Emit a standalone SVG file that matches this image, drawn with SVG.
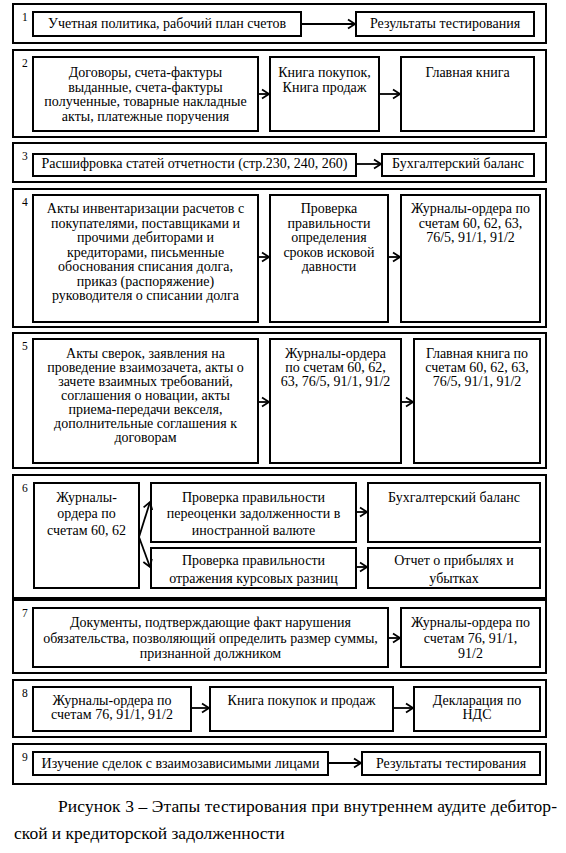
<svg xmlns="http://www.w3.org/2000/svg" width="566" height="853" viewBox="0 0 566 853">
<style>
.o{fill:none;stroke:#000;stroke-width:2}
.b{fill:#fff;stroke:#000;stroke-width:2}
.t{font-size:14px;text-anchor:middle}
.n{font-size:11.5px}
.c{font-size:17.5px}
.a{fill:none;stroke:#000;stroke-width:1.8}
</style>
<defs>
<marker id="ah" markerUnits="userSpaceOnUse" markerWidth="12" markerHeight="12" refX="9" refY="6" orient="auto">
<path d="M2,1.5 L9,6 L2,10.5" fill="none" stroke="#000" stroke-width="1.8"/>
</marker>
</defs>
<rect width="566" height="853" fill="#fff"/>
<g font-family="Liberation Serif, DejaVu Serif, serif" fill="#000">
<g id="stage1">
<rect class="o" x="13" y="4" width="533" height="39"/>
<text class="n" x="22" y="21">1</text>
<g id="s1a"><rect class="b" x="33" y="12" width="268" height="24"/><text class="t" x="167" y="28">Учетная политика, рабочий план счетов</text></g>
<g id="s1b"><rect class="b" x="356" y="12" width="178" height="24"/><text class="t" x="445" y="28">Результаты тестирования</text></g>
</g>

<g id="stage2">
<rect class="o" x="13" y="50" width="533" height="87"/>
<text class="n" x="22" y="67">2</text>
<g id="s2a"><rect class="b" x="33" y="57" width="225" height="74"/>
<text class="t" x="145.5" y="77">Договоры, счета-фактуры</text>
<text class="t" x="145.5" y="91.5">выданные, счета-фактуры</text>
<text class="t" x="145.5" y="106">полученные, товарные накладные</text>
<text class="t" x="145.5" y="120.5">акты, платежные поручения</text></g>
<g id="s2b"><rect class="b" x="270" y="57" width="109" height="74"/>
<text class="t" x="324.5" y="77">Книга покупок,</text>
<text class="t" x="324.5" y="91.5">Книга продаж</text></g>
<g id="s2c"><rect class="b" x="401" y="57" width="133" height="74"/>
<text class="t" x="467.5" y="77">Главная книга</text></g>
</g>

<g id="stage3">
<rect class="o" x="13" y="143" width="533" height="39"/>
<text class="n" x="22" y="160">3</text>
<g id="s3a"><rect class="b" x="33" y="154" width="323" height="22"/><text class="t" x="194.5" y="168">Расшифровка статей отчетности (стр.230, 240, 260)</text></g>
<g id="s3b"><rect class="b" x="382" y="154" width="152" height="22"/><text class="t" x="458" y="168">Бухгалтерский баланс</text></g>
</g>

<g id="stage4">
<rect class="o" x="13" y="189" width="533" height="138"/>
<text class="n" x="22" y="206">4</text>
<g id="s4a"><rect class="b" x="33" y="195" width="225" height="127"/>
<text class="t" x="145.5" y="213">Акты инвентаризации расчетов с</text>
<text class="t" x="145.5" y="227.5">покупателями, поставщиками и</text>
<text class="t" x="145.5" y="242">прочими дебиторами и</text>
<text class="t" x="145.5" y="256.5">кредиторами, письменные</text>
<text class="t" x="145.5" y="271">обоснования списания долга,</text>
<text class="t" x="145.5" y="285.5">приказ (распоряжение)</text>
<text class="t" x="145.5" y="300">руководителя о списании долга</text></g>
<g id="s4b"><rect class="b" x="270" y="195" width="118" height="127"/>
<text class="t" x="329" y="213">Проверка</text>
<text class="t" x="329" y="227.5">правильности</text>
<text class="t" x="329" y="242">определения</text>
<text class="t" x="329" y="256.5">сроков исковой</text>
<text class="t" x="329" y="271">давности</text></g>
<g id="s4c"><rect class="b" x="401" y="195" width="139" height="127"/>
<text class="t" x="470.5" y="213">Журналы-ордера по</text>
<text class="t" x="470.5" y="227.5">счетам 60, 62, 63,</text>
<text class="t" x="470.5" y="242">76/5, 91/1, 91/2</text></g>
</g>

<g id="stage5">
<rect class="o" x="13" y="333" width="533" height="135"/>
<text class="n" x="22" y="350">5</text>
<g id="s5a"><rect class="b" x="33" y="339" width="225" height="124"/>
<text class="t" x="145.5" y="358">Акты сверок, заявления на</text>
<text class="t" x="145.5" y="372">проведение взаимозачета, акты о</text>
<text class="t" x="145.5" y="386">зачете взаимных требований,</text>
<text class="t" x="145.5" y="400">соглашения о новации, акты</text>
<text class="t" x="145.5" y="414">приема-передачи векселя,</text>
<text class="t" x="145.5" y="428">дополнительные соглашения к</text>
<text class="t" x="145.5" y="442">договорам</text></g>
<g id="s5b"><rect class="b" x="270" y="339" width="131" height="124"/>
<text class="t" x="335.5" y="358">Журналы-ордера</text>
<text class="t" x="335.5" y="372">по счетам 60, 62,</text>
<text class="t" x="335.5" y="386">63, 76/5, 91/1, 91/2</text></g>
<g id="s5c"><rect class="b" x="414" y="339" width="126" height="124"/>
<text class="t" x="477" y="358">Главная книга по</text>
<text class="t" x="477" y="372">счетам 60, 62, 63,</text>
<text class="t" x="477" y="386">76/5, 91/1, 91/2</text></g>
</g>

<g id="stage6">
<rect class="o" x="13" y="475" width="533" height="123"/>
<text class="n" x="22" y="492">6</text>
<g id="s6a"><rect class="b" x="34" y="483" width="105" height="105"/>
<text class="t" x="86.5" y="501.5">Журналы-</text>
<text class="t" x="86.5" y="518">ордера по</text>
<text class="t" x="86.5" y="534.5">счетам 60, 62</text></g>
<g id="s6b"><rect class="b" x="151" y="483" width="205" height="59"/>
<text class="t" x="253.5" y="501.5">Проверка правильности</text>
<text class="t" x="253.5" y="518">переоценки задолженности в</text>
<text class="t" x="253.5" y="534.5">иностранной валюте</text></g>
<g id="s6c"><rect class="b" x="368" y="483" width="172" height="59"/>
<text class="t" x="454" y="501.5">Бухгалтерский баланс</text></g>
<g id="s6d"><rect class="b" x="151" y="548" width="205" height="40"/>
<text class="t" x="253.5" y="565">Проверка правильности</text>
<text class="t" x="253.5" y="583">отражения курсовых разниц</text></g>
<g id="s6e"><rect class="b" x="368" y="548" width="172" height="40"/>
<text class="t" x="454" y="565">Отчет о прибылях и</text>
<text class="t" x="454" y="583">убытках</text></g>
</g>

<g id="stage7">
<rect class="o" x="13" y="600" width="533" height="73"/>
<text class="n" x="22" y="617">7</text>
<g id="s7a"><rect class="b" x="33" y="608" width="355" height="59"/>
<text class="t" x="210.5" y="626.5">Документы, подтверждающие факт нарушения</text>
<text class="t" x="210.5" y="642.5">обязательства, позволяющий определить размер суммы,</text>
<text class="t" x="210.5" y="658">признанной должником</text></g>
<g id="s7b"><rect class="b" x="401" y="608" width="139" height="59"/>
<text class="t" x="470.5" y="626.5">Журналы-ордера по</text>
<text class="t" x="470.5" y="642.5">счетам 76, 91/1,</text>
<text class="t" x="470.5" y="658">91/2</text></g>
</g>

<g id="stage8">
<rect class="o" x="13" y="680" width="533" height="57"/>
<text class="n" x="22" y="697">8</text>
<g id="s8a"><rect class="b" x="33" y="687" width="158" height="44"/>
<text class="t" x="112" y="705">Журналы-ордера по</text>
<text class="t" x="112" y="719">счетам 76, 91/1, 91/2</text></g>
<g id="s8b"><rect class="b" x="210" y="687" width="183" height="44"/>
<text class="t" x="301.5" y="705">Книга покупок и продаж</text></g>
<g id="s8c"><rect class="b" x="414" y="687" width="126" height="44"/>
<text class="t" x="477" y="705">Декларация по</text>
<text class="t" x="477" y="719">НДС</text></g>
</g>

<g id="stage9">
<rect class="o" x="13" y="744" width="533" height="40"/>
<text class="n" x="22" y="761">9</text>
<g id="s9a"><rect class="b" x="33" y="752" width="295" height="23"/><text class="t" x="180.5" y="768">Изучение сделок с взаимозависимыми лицами</text></g>
<g id="s9b"><rect class="b" x="362" y="752" width="178" height="23"/><text class="t" x="451" y="768">Результаты тестирования</text></g>
</g>

<text class="c" x="58" y="812" textLength="499" lengthAdjust="spacing">Рисунок 3 – Этапы тестирования при внутреннем аудите дебитор-</text>
<text class="c" x="14" y="839">ской и кредиторской задолженности</text>
</g>

<g id="connectors">
<line class="a" x1="301" y1="24" x2="355" y2="24" marker-end="url(#ah)"/>
<line class="a" x1="258" y1="94" x2="269" y2="94" marker-end="url(#ah)"/>
<line class="a" x1="379" y1="94" x2="400" y2="94" marker-end="url(#ah)"/>
<line class="a" x1="356" y1="164" x2="381" y2="164" marker-end="url(#ah)"/>
<line class="a" x1="258" y1="257" x2="269" y2="257" marker-end="url(#ah)"/>
<line class="a" x1="388" y1="257" x2="400" y2="257" marker-end="url(#ah)"/>
<line class="a" x1="258" y1="402" x2="269" y2="402" marker-end="url(#ah)"/>
<line class="a" x1="401" y1="402" x2="413" y2="402" marker-end="url(#ah)"/>
<line class="a" x1="139" y1="537" x2="150" y2="502" marker-end="url(#ah)"/>
<line class="a" x1="139" y1="537" x2="150" y2="567" marker-end="url(#ah)"/>
<line class="a" x1="356" y1="512" x2="367" y2="512" marker-end="url(#ah)"/>
<line class="a" x1="356" y1="567" x2="367" y2="567" marker-end="url(#ah)"/>
<line class="a" x1="388" y1="638" x2="400" y2="638" marker-end="url(#ah)"/>
<line class="a" x1="191" y1="708" x2="209" y2="708" marker-end="url(#ah)"/>
<line class="a" x1="393" y1="708" x2="413" y2="708" marker-end="url(#ah)"/>
<line class="a" x1="328" y1="763" x2="361" y2="763" marker-end="url(#ah)"/>
</g>
</svg>
